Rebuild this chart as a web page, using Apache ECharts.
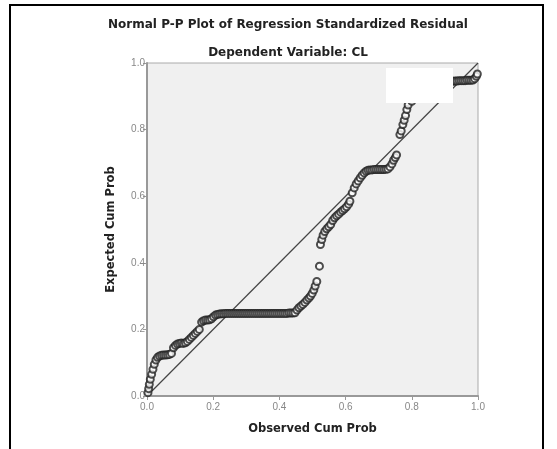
<!DOCTYPE html>
<html>
<head>
<meta charset="utf-8">
<title>Normal P-P Plot</title>
<script src="https://cdn.jsdelivr.net/npm/echarts@6/dist/echarts.min.js"></script>
<style>
  html, body { margin: 0; padding: 0; background: #fff; }
  #chart { width: 557px; height: 449px; }
</style>
</head>
<body>
<div id="chart"></div>
<script>
// observed cumulative probability (x) and expected cumulative probability (y)
var observedCum = [
  0.003, 0.005, 0.007, 0.010, 0.014, 0.018, 0.022, 0.027,
  0.032, 0.038, 0.044, 0.050, 0.056, 0.062, 0.068, 0.074,
  0.080, 0.086, 0.092, 0.098, 0.104, 0.110, 0.116, 0.122,
  0.128, 0.134, 0.140, 0.146, 0.152, 0.158,
  0.165, 0.171, 0.177, 0.183, 0.189, 0.195, 0.201,
  0.207, 0.213, 0.219, 0.225, 0.231, 0.237, 0.243, 0.249, 0.255, 0.261,
  0.267, 0.273, 0.279, 0.285, 0.291, 0.297, 0.303, 0.309, 0.315, 0.321,
  0.327, 0.333, 0.339, 0.345, 0.351, 0.357, 0.363, 0.369, 0.375, 0.381,
  0.387, 0.393, 0.399, 0.405, 0.411, 0.417, 0.423, 0.429, 0.435, 0.441, 0.447,
  0.453, 0.459, 0.465, 0.471, 0.477, 0.483, 0.489, 0.494, 0.499, 0.504, 0.508, 0.513,
  0.521,
  0.524, 0.528, 0.532, 0.537, 0.543, 0.549, 0.555, 0.561, 0.567, 0.573, 0.579,
  0.585, 0.591, 0.597, 0.603, 0.609, 0.613,
  0.620, 0.626, 0.632, 0.638, 0.644, 0.650, 0.656, 0.662,
  0.668, 0.674, 0.680, 0.686, 0.692, 0.698, 0.704, 0.710, 0.716, 0.722, 0.728,
  0.734, 0.740, 0.745, 0.750, 0.754,
  0.764, 0.768, 0.773, 0.777, 0.781, 0.785, 0.789,
  0.800, 0.820, 0.840, 0.860, 0.880, 0.900, 0.915,
  0.925, 0.931, 0.937, 0.943, 0.949, 0.955, 0.961, 0.967, 0.973, 0.979, 0.985,
  0.990, 0.995, 0.998
];
var expectedCum = [
  0.010, 0.022, 0.035, 0.050, 0.065, 0.080, 0.095, 0.108,
  0.116, 0.120, 0.122, 0.123, 0.123, 0.124, 0.125, 0.128,
  0.145, 0.152, 0.156, 0.158, 0.159, 0.158, 0.160, 0.164,
  0.170, 0.176, 0.182, 0.188, 0.194, 0.200,
  0.222, 0.226, 0.228, 0.228, 0.229, 0.232, 0.238,
  0.243, 0.245, 0.246, 0.247, 0.247, 0.248, 0.248, 0.248, 0.248, 0.248,
  0.248, 0.248, 0.248, 0.248, 0.248, 0.248, 0.248, 0.248, 0.248, 0.248,
  0.248, 0.248, 0.248, 0.248, 0.248, 0.248, 0.248, 0.248, 0.248, 0.248,
  0.248, 0.248, 0.248, 0.248, 0.248, 0.248, 0.248, 0.249, 0.249, 0.249, 0.250,
  0.258, 0.265, 0.270, 0.275, 0.281, 0.288, 0.294, 0.300, 0.308, 0.318, 0.330, 0.344,
  0.390,
  0.455, 0.470, 0.483, 0.494, 0.502, 0.508, 0.515, 0.527, 0.535, 0.541, 0.546,
  0.552, 0.557, 0.562, 0.568, 0.576, 0.585,
  0.610, 0.625, 0.637, 0.646, 0.655, 0.663, 0.670, 0.675,
  0.678, 0.679, 0.679, 0.680, 0.680, 0.680, 0.680, 0.680, 0.680, 0.681, 0.682,
  0.688, 0.697, 0.708, 0.716, 0.724,
  0.785, 0.796, 0.815, 0.828, 0.842, 0.860, 0.874,
  0.885, 0.898, 0.910, 0.920, 0.930, 0.937, 0.942,
  0.945, 0.946, 0.946, 0.947, 0.947, 0.947, 0.947, 0.948, 0.948, 0.948, 0.949,
  0.953, 0.960, 0.967
];
var tickLabels = ['0.0', '0.2', '0.4', '0.6', '0.8', '1.0'];
var diagonal = [[0, 0], [1, 1]];

var points = observedCum.map(function (x, i) { return [x, expectedCum[i]]; });

var chart = echarts.init(document.getElementById('chart'));
var font = 'Liberation Sans, Arial, sans-serif';
var boldFont = 'DejaVu Sans, Liberation Sans, sans-serif';

function tickFmt(v) { return tickLabels[Math.round(v * 5)]; }

chart.setOption({
  backgroundColor: '#fff',
  animation: false,
  grid: {
    left: 147, top: 63, width: 331, height: 333,
    show: true, backgroundColor: '#f0f0f0', borderColor: '#aaa', borderWidth: 1
  },
  xAxis: {
    type: 'value', min: 0, max: 1, interval: 0.2,
    name: 'Observed Cum Prob', nameLocation: 'middle', nameGap: 27,
    nameTextStyle: { fontFamily: boldFont, fontWeight: 'bold', fontSize: 11.5, color: '#222' },
    axisLine: { lineStyle: { color: '#999', width: 2 } },
    axisTick: { show: true, length: 4, lineStyle: { color: '#999' } },
    axisLabel: { formatter: tickFmt, fontFamily: font, fontSize: 10, color: '#888', margin: 6 },
    splitLine: { show: false }
  },
  yAxis: {
    type: 'value', min: 0, max: 1, interval: 0.2,
    name: 'Expected Cum Prob', nameLocation: 'middle', nameGap: 30,
    nameTextStyle: { fontFamily: boldFont, fontWeight: 'bold', fontSize: 11.5, color: '#222' },
    axisLine: { show: true, lineStyle: { color: '#999', width: 2 } },
    axisTick: { show: true, length: 4, lineStyle: { color: '#999' } },
    axisLabel: { formatter: tickFmt, fontFamily: font, fontSize: 10, color: '#888', margin: 2 },
    splitLine: { show: false }
  },
  series: [
    {
      type: 'line',
      data: diagonal,
      symbol: 'none',
      lineStyle: { color: '#444', width: 1.2 },
      silent: true,
      z: 2
    },
    {
      type: 'scatter',
      data: points,
      symbol: 'emptyCircle',
      symbolSize: 7,
      itemStyle: { color: '#222', borderWidth: 1.4 },
      z: 3
    }
  ],
  graphic: [
    {
      type: 'text', x: 288, y: 25,
      style: { text: 'Normal P-P Plot of Regression Standardized Residual', fontFamily: boldFont,
        fontWeight: 'bold', fontSize: 12, fill: '#222', align: 'center', verticalAlign: 'middle' }
    },
    {
      type: 'text', x: 288, y: 53,
      style: { text: 'Dependent Variable: CL', fontFamily: boldFont,
        fontWeight: 'bold', fontSize: 12, fill: '#222', align: 'center', verticalAlign: 'middle' }
    },
    {
      type: 'rect', shape: { x: 386, y: 68, width: 67, height: 35 },
      style: { fill: '#fff' }, z: 100
    },
    {
      type: 'polyline', shape: { points: [[10, 449], [10, 5], [543, 5], [543, 449]] },
      style: { stroke: '#000', lineWidth: 2, fill: null }, z: 100
    }
  ]
});
</script>
</body>
</html>
